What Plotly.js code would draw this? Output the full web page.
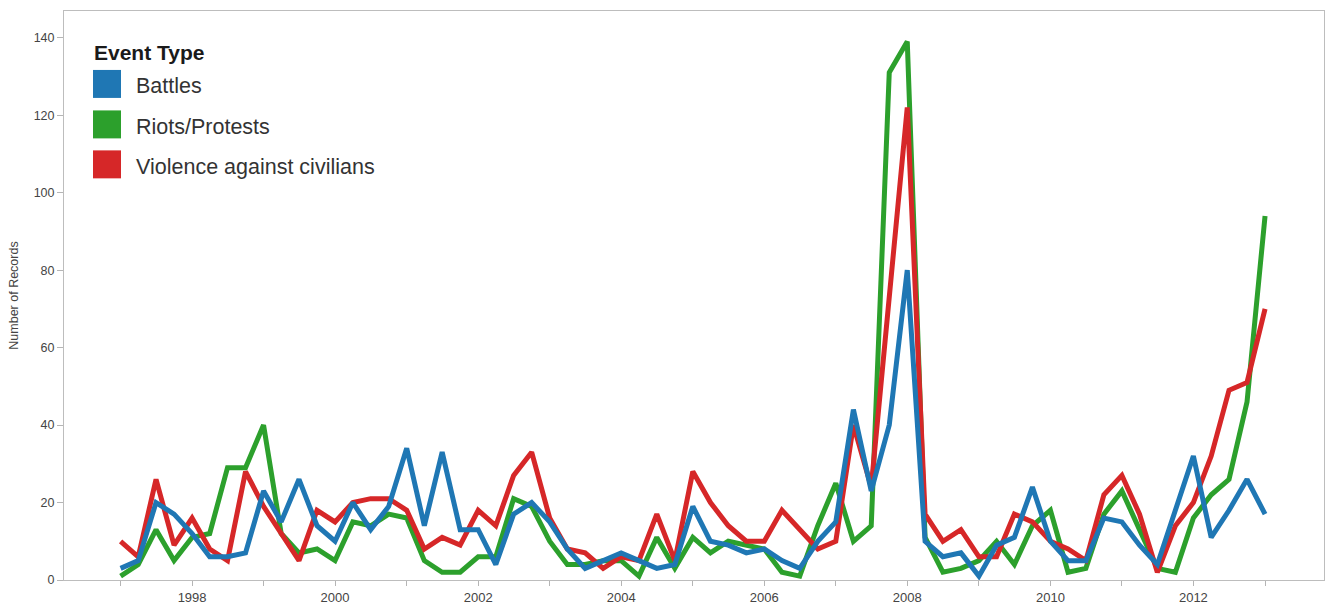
<!DOCTYPE html>
<html>
<head>
<meta charset="utf-8">
<script src="https://cdn.plot.ly/plotly-3.0.1.min.js"></script>
<style>
  html, body { margin: 0; padding: 0; background: #ffffff; }
  #chart { width: 1326px; height: 605px; }
</style>
</head>
<body>
<div id="chart"></div>
<script>
// ---- Data (quarterly counts) ----
const quarters = [
  '1997-01-01','1997-04-01','1997-07-01','1997-10-01',
  '1998-01-01','1998-04-01','1998-07-01','1998-10-01',
  '1999-01-01','1999-04-01','1999-07-01','1999-10-01',
  '2000-01-01','2000-04-01','2000-07-01','2000-10-01',
  '2001-01-01','2001-04-01','2001-07-01','2001-10-01',
  '2002-01-01','2002-04-01','2002-07-01','2002-10-01',
  '2003-01-01','2003-04-01','2003-07-01','2003-10-01',
  '2004-01-01','2004-04-01','2004-07-01','2004-10-01',
  '2005-01-01','2005-04-01','2005-07-01','2005-10-01',
  '2006-01-01','2006-04-01','2006-07-01','2006-10-01',
  '2007-01-01','2007-04-01','2007-07-01','2007-10-01',
  '2008-01-01','2008-04-01','2008-07-01','2008-10-01',
  '2009-01-01','2009-04-01','2009-07-01','2009-10-01',
  '2010-01-01','2010-04-01','2010-07-01','2010-10-01',
  '2011-01-01','2011-04-01','2011-07-01','2011-10-01',
  '2012-01-01','2012-04-01','2012-07-01','2012-10-01',
  '2013-01-01'
];

const battles = [
  3, 5, 20, 17,
  12, 6, 6, 7,
  23, 15, 26, 14,
  10, 20, 13, 19,
  34, 14, 33, 13,
  13, 4, 17, 20,
  15, 8, 3, 5,
  7, 5, 3, 4,
  19, 10, 9, 7,
  8, 5, 3, 10,
  15, 44, 23, 40,
  80, 10, 6, 7,
  1, 9, 11, 24,
  10, 5, 5, 16,
  15, 9, 4, 18,
  32, 11, 18, 26,
  17
];

const riotsProtests = [
  1, 4, 13, 5,
  11, 12, 29, 29,
  40, 12, 7, 8,
  5, 15, 14, 17,
  16, 5, 2, 2,
  6, 6, 21, 19,
  10, 4, 4, 5,
  5, 1, 11, 3,
  11, 7, 10, 9,
  8, 2, 1, 14,
  25, 10, 14, 131,
  139, 11, 2, 3,
  5, 10, 4, 14,
  18, 2, 3, 17,
  23, 13, 3, 2,
  16, 22, 26, 46,
  94
];

const violenceAgainstCivilians = [
  10, 6, 26, 9,
  16, 8, 5, 28,
  19, 12, 5, 18,
  15, 20, 21, 21,
  18, 8, 11, 9,
  18, 14, 27, 33,
  16, 8, 7, 3,
  6, 5, 17, 5,
  28, 20, 14, 10,
  10, 18, 13, 8,
  10, 40, 24, 72,
  122, 17, 10, 13,
  6, 6, 17, 15,
  10, 8, 5, 22,
  27, 17, 2, 14,
  20, 32, 49, 51,
  70
];

const seriesNames  = ['Battles', 'Riots/Protests', 'Violence against civilians'];
const seriesColors = ['#1f77b4', '#2ca02c', '#d62728'];
const legendTitle  = 'Event Type';
const yAxisTitle   = 'Number of Records';

const yTickVals = [0, 20, 40, 60, 80, 100, 120, 140];
const xTickVals = ['1997-01-01','1998-01-01','1999-01-01','2000-01-01','2001-01-01',
                   '2002-01-01','2003-01-01','2004-01-01','2005-01-01','2006-01-01',
                   '2007-01-01','2008-01-01','2009-01-01','2010-01-01','2011-01-01',
                   '2012-01-01','2013-01-01'];
const xTickText = ['', '1998', '', '2000', '', '2002', '', '2004', '', '2006',
                   '', '2008', '', '2010', '', '2012', ''];

// ---- Traces (drawn order: green, red, blue on top) ----
const seriesValues = [battles, riotsProtests, violenceAgainstCivilians];
const drawOrder = [1, 2, 0];
const traces = drawOrder.map(function (k) {
  return {
    type: 'scatter',
    mode: 'lines',
    name: seriesNames[k],
    x: quarters,
    y: seriesValues[k],
    line: { color: seriesColors[k], width: 5, shape: 'linear' },
    showlegend: false,
    hoverinfo: 'x+y+name'
  };
});

// ---- Plot-area geometry (pixels) for the custom square-swatch legend ----
const W = 1326, H = 605;
const M = { l: 64, r: 2, t: 11, b: 24.5 };
const plotW = W - M.l - M.r, plotH = H - M.t - M.b;
function px(x) { return (x - M.l) / plotW; }
function py(y) { return (H - M.b - y) / plotH; }

const shapes = [];
const annotations = [];
annotations.push({
  xref: 'paper', yref: 'paper', x: px(92), y: py(53),
  xanchor: 'left', yanchor: 'middle', showarrow: false,
  text: '<b>' + legendTitle + '</b>',
  font: { family: 'Liberation Sans, Arial, sans-serif', size: 21, color: '#1a1a1a' }
});
const legendRowY = [84, 124.5, 164.5];
seriesNames.forEach(function (name, i) {
  const cy = legendRowY[i];
  shapes.push({
    type: 'rect', xref: 'paper', yref: 'paper',
    x0: px(93), x1: px(121), y0: py(cy + 14), y1: py(cy - 14),
    fillcolor: seriesColors[i], line: { width: 0 }
  });
  annotations.push({
    xref: 'paper', yref: 'paper', x: px(134), y: py(cy + 2.5),
    xanchor: 'left', yanchor: 'middle', showarrow: false,
    text: name,
    font: { family: 'Liberation Sans, Arial, sans-serif', size: 21.5, color: '#333333' }
  });
});

const layout = {
  width: W, height: H,
  margin: M,
  paper_bgcolor: '#ffffff',
  plot_bgcolor: '#ffffff',
  showlegend: false,
  font: { family: 'Liberation Sans, Arial, sans-serif', color: '#444444' },
  xaxis: {
    type: 'date',
    range: ['1996-03-18', '2013-10-29'],
    tickmode: 'array',
    tickvals: xTickVals,
    ticktext: xTickText,
    ticks: 'outside', ticklen: 5, tickwidth: 1, tickcolor: '#b5b5b5',
    showgrid: false, zeroline: false,
    showline: true, linecolor: '#bdbdbd', linewidth: 1, mirror: true,
    tickfont: { size: 13, color: '#444444' }
  },
  yaxis: {
    range: [0, 146.9],
    tickmode: 'array',
    tickvals: yTickVals,
    ticks: 'outside', ticklen: 6, tickwidth: 1, tickcolor: '#b5b5b5',
    showgrid: false, zeroline: false,
    showline: true, linecolor: '#bdbdbd', linewidth: 1, mirror: true,
    tickfont: { size: 12.5, color: '#444444' },
    title: { text: yAxisTitle, font: { size: 12.5, color: '#444444' }, standoff: 12 }
  },
  shapes: shapes,
  annotations: annotations
};

Plotly.newPlot('chart', traces, layout, { displayModeBar: false, staticPlot: true });
</script>
</body>
</html>
